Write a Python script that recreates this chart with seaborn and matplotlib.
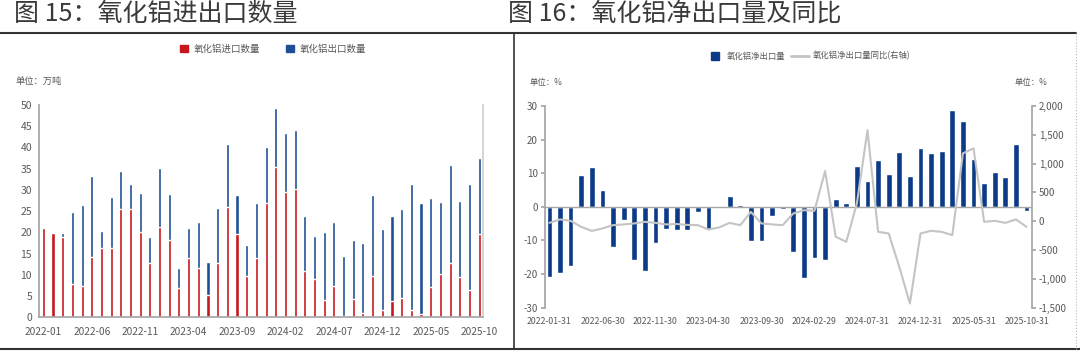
import matplotlib
matplotlib.use('Agg')

import numpy as np
import pandas as pd
import matplotlib.pyplot as plt
import seaborn as sns
from matplotlib.patches import Patch
from matplotlib.lines import Line2D
from matplotlib.ticker import FuncFormatter

sns.set_theme(style="white")
plt.rcParams['font.family'] = ['Liberation Sans Narrow', 'Noto Sans CJK SC', 'DejaVu Sans']
plt.rcParams['axes.unicode_minus'] = False

# 月份 2022-01 ~ 2025-10
months = pd.date_range('2022-01-31', periods=46, freq='ME')

# 图15：进口 / 出口 (万吨)
imports = [21.0, 19.9, 18.8, 7.8, 7.3, 14.1, 16.3, 16.3, 25.4, 25.4, 20.2, 12.8,
           21.2, 18.3, 6.9, 13.9, 11.6, 5.3, 12.8, 25.9, 19.7, 9.8, 13.9, 26.9,
           35.5, 29.5, 30.3, 10.8, 9.1, 4.1, 7.4, 0.3, 4.3, 1.0, 9.8, 1.7,
           3.9, 4.5, 1.6, 0.7, 7.1, 10.2, 12.8, 9.5, 6.5, 19.5]
exports = [0.0, 0.0, 1.1, 16.9, 19.1, 19.1, 4.0, 12.0, 9.0, 6.0, 9.0, 6.0,
           13.9, 10.8, 4.8, 7.1, 10.9, 7.7, 13.0, 14.8, 9.0, 7.2, 13.0, 13.1,
           13.9, 14.0, 13.8, 13.1, 10.1, 16.1, 15.1, 14.2, 14.0, 16.6, 19.1, 19.1,
           20.0, 21.1, 29.9, 26.2, 20.9, 16.9, 23.0, 18.0, 24.9, 18.0]

# 图16：净出口量 (左轴) 与同比 (右轴, %)
net_exports = [-20.8, -19.6, -17.5, 9.5, 11.8, 5.1, -12.0, -3.9, -16.0, -19.0, -10.8, -6.6,
               -6.9, -6.9, -1.5, -6.7, -0.5, 3.2, 0.6, -10.3, -10.3, -2.7, -0.6, -13.6,
               -21.1, -15.2, -15.9, 2.4, 1.0, 12.0, 7.7, 13.8, 9.8, 16.4, 9.3, 17.4,
               16.1, 16.6, 28.7, 25.4, 14.1, 7.1, 10.3, 8.8, 18.7, -1.3]
net_yoy = [-30, 30, 5, -100, -170, -127, -70, -57, -40, -12, -30, -57,
           -50, -65, -70, -145, -110, -30, -70, 160, -40, -57, -70, 133,
           190, 180, 870, -270, -360, 310, 1580, -186, -214, -795, -1431, -214,
           -168, -186, -243, 1177, 1264, -12, 5, -30, 30, -100]

left_ticklabels = ['2022-01', '2022-06', '2022-11', '2023-04', '2023-09',
                   '2024-02', '2024-07', '2024-12', '2025-05', '2025-10']
right_ticklabels = ['2022-01-31', '2022-06-30', '2022-11-30', '2023-04-30', '2023-09-30',
                    '2024-02-29', '2024-07-31', '2024-12-31', '2025-05-31', '2025-10-31']

RED = '#C8161D'
BLUE = '#1F4E96'
NAVY = '#0B3A88'
LINE = '#C4C4C4'
TXT = '#595959'
SPINE = '#A6A6A6'

labels_m = months.strftime('%Y-%m')
totals = np.array(imports) + np.array(exports)
pos = np.arange(len(months))

fig = plt.figure(figsize=(10.8, 3.52), dpi=100)

# ---------------- 图15 ----------------
ax1 = fig.add_axes([0.0361, 0.0986, 0.4111, 0.6031])
sns.barplot(x=labels_m, y=totals, color=BLUE, saturation=1, width=0.32, ax=ax1)
sns.barplot(x=labels_m, y=imports, color=RED, saturation=1, width=0.32, ax=ax1)
ax1.set_xlim(-0.38, 45.4)
ax1.set_ylim(0, 50)
ax1.set_yticks(np.arange(0, 51, 5))
ax1.set_xticks(pos[::5])
ax1.set_xticklabels(left_ticklabels)
ax1.set_xticks(pos[::5] - 0.45, minor=True)
ax1.tick_params(axis='x', which='major', length=0, pad=7, labelsize=7.3, colors=TXT)
ax1.tick_params(axis='x', which='minor', length=3, color=SPINE, direction='out')
ax1.tick_params(axis='y', length=3, color=SPINE, direction='out', labelsize=7.5, colors=TXT, pad=2)
ax1.set_xlabel('')
ax1.set_ylabel('')
for s in ['left', 'bottom']:
    ax1.spines[s].set_color(SPINE)
ax1.spines['right'].set_color('#CFCFCF')
ax1.spines['top'].set_visible(False)

fig.legend(handles=[Patch(color=RED), Patch(color=BLUE)],
           labels=['氧化铝进口数量', '氧化铝出口数量'],
           loc='center', bbox_to_anchor=(0.253, 0.861), ncol=2, frameon=False,
           handlelength=0.8, handleheight=0.8, handletextpad=0.6, columnspacing=2.8,
           prop={'family': ['Noto Sans CJK SC'], 'size': 6.8}, labelcolor=TXT)
fig.text(15 / 1080, 1 - 81 / 352, '单位：万吨', fontsize=6.7, color=TXT,
         family=['Noto Sans CJK SC'], va='center', ha='left')

# ---------------- 图16 ----------------
ax2 = fig.add_axes([0.5046, 0.1264, 0.451, 0.5725])
sns.barplot(x=labels_m, y=net_exports, color=NAVY, saturation=1, width=0.54, ax=ax2)
ax2.axhline(0, color=SPINE, lw=1, zorder=1)
ax2.set_ylim(-30, 30)
ax2.set_yticks(np.arange(-30, 31, 10))
ax2.set_xticks(pos[::5])
ax2.set_xticklabels(right_ticklabels)
ax2.tick_params(axis='x', length=0, pad=7, labelsize=6.3, colors=TXT)
ax2.tick_params(axis='y', length=3, color=SPINE, direction='out', labelsize=7, colors=TXT, pad=2)
ax2.set_xlabel('')
ax2.set_ylabel('')
ax2.spines['left'].set_color(SPINE)
for s in ['top', 'right', 'bottom']:
    ax2.spines[s].set_visible(False)

ax3 = ax2.twinx()
sns.lineplot(x=pos, y=net_yoy, color=LINE, lw=1.5, ax=ax3)
ax3.set_ylim(-1500, 2000)
ax3.set_yticks(np.arange(-1500, 2001, 500))
ax3.yaxis.set_major_formatter(FuncFormatter(lambda v, p: f'{v:,.0f}'))
ax3.tick_params(axis='y', length=3, color=SPINE, direction='out', labelsize=7, colors=TXT, pad=2)
ax3.set_ylabel('')
ax3.spines['right'].set_color(SPINE)
for s in ['top', 'left', 'bottom']:
    ax3.spines[s].set_visible(False)
ax2.set_xlim(-0.42, 45.52)
ax3.set_xlim(-0.42, 45.52)

fig.legend(handles=[Line2D([], [], marker='s', ls='', color=NAVY, markersize=6),
                    Line2D([], [], color=LINE, lw=2)],
           labels=['氧化铝净出口量', '氧化铝净出口量同比(右轴)'],
           loc='center', bbox_to_anchor=(0.748, 0.841), ncol=2, frameon=False,
           handlelength=2.2, handletextpad=0.4, columnspacing=0.6,
           prop={'family': ['Noto Sans CJK SC'], 'size': 6}, labelcolor=TXT)
fig.text(530 / 1080, 1 - 83 / 352, '单位：%', fontsize=6, color=TXT,
         family=['Noto Sans CJK SC'], va='center', ha='left')
fig.text(1047 / 1080, 1 - 83 / 352, '单位：%', fontsize=6, color=TXT,
         family=['Noto Sans CJK SC'], va='center', ha='right')

# 标题
fig.text(14 / 1080, 1 - 14 / 352, '图 15：氧化铝进出口数量', fontsize=18, color='#3A3A3A',
         family=['Noto Sans CJK SC'], va='center', ha='left')
fig.text(508 / 1080, 1 - 14 / 352, '图 16：氧化铝净出口量及同比', fontsize=18, color='#3A3A3A',
         family=['Noto Sans CJK SC'], va='center', ha='left')

# 外框
fig.add_artist(Line2D([0, 1076 / 1080], [1 - 33 / 352] * 2, transform=fig.transFigure, color='#333333', lw=1.5))
fig.add_artist(Line2D([0, 1], [1 - 349 / 352] * 2, transform=fig.transFigure, color='#333333', lw=1.5))
fig.add_artist(Line2D([514 / 1080] * 2, [1 - 33 / 352, 1 - 349 / 352], transform=fig.transFigure, color='#333333', lw=1.2))
fig.add_artist(Line2D([1076 / 1080] * 2, [1 - 33 / 352, 1 - 349 / 352], transform=fig.transFigure,
                      color='#BBBBBB', lw=0.8, ls=':'))

fig.savefig('out.png', dpi=100)
